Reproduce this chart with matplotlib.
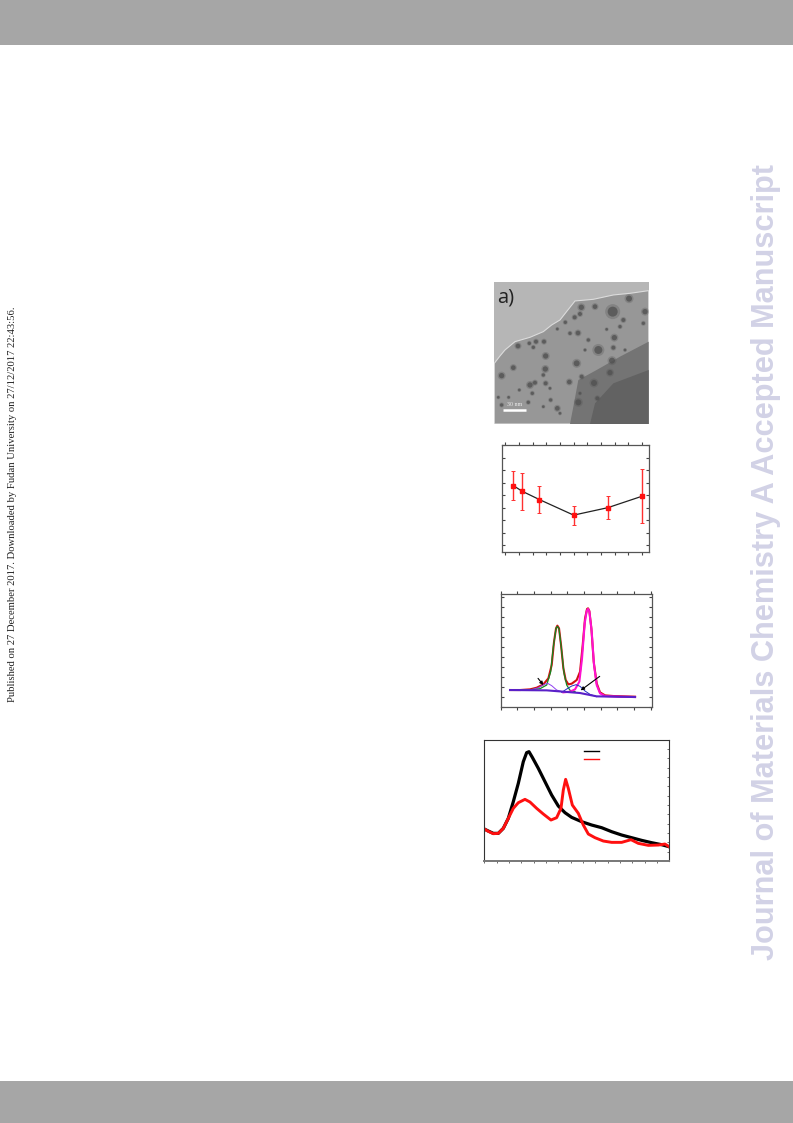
import matplotlib
matplotlib.use("Agg")
import matplotlib.pyplot as plt
from matplotlib.patches import Polygon, Circle, Rectangle

W, H = 793, 1123
fig = plt.figure(figsize=(W/100, H/100), dpi=100, facecolor="white")

def box(l, t, r, b):
    return [l/W, 1-b/H, (r-l)/W, (b-t)/H]

# ---------- panel a: micrograph regions and particles
sample_edge = [(43,280),(60,258),(75,240),(105,215),(150,202),(190,185),(215,165),(240,150),(262,122),(285,93),(340,88),(400,75),(450,70),(506,62),(506,462),(43,462)]
dark_zone = [(270,462),(282,400),(295,330),(350,300),(420,260),(506,215),(506,462)]
darker_zone = [(330,462),(345,400),(400,340),(506,300),(506,462)]
part_x = [447,398,304,345,300,284,256,294,270,232,430,420,403,400,355,325,490,495,380,192,168,148,114,160,197,100,65,196,190,150,165,197,118,157,86,55,65,145,212,190,232,240,268,305,290,396,390,342,295,352,315,435,300,210]
part_y = [86,125,112,110,132,142,157,189,190,177,150,170,203,233,240,210,160,125,178,215,215,220,228,232,258,293,317,297,315,345,338,340,360,370,382,382,405,397,390,410,415,430,336,320,280,272,308,339,397,385,240,240,370,355]
part_r = [9,15,8,7,6,6,5,7,5,4,6,5,8,6,12,5,5,8,4,6,6,5,7,5,8,7,8,8,5,8,6,6,4,5,4,4,5,5,5,4,7,4,7,6,9,9,8,9,9,6,4,4,4,4]

# ---------- panel b
time_x = [0.6, 1.24, 2.5, 5.0, 7.5, 10.0]
size_y = [4.77, 4.32, 3.65, 2.40, 3.00, 3.92]
size_low = [3.60, 2.83, 2.56, 1.57, 2.08, 1.76]
size_high = [5.97, 5.81, 4.75, 3.17, 3.92, 6.10]

# ---------- panel c
fit_x = [28,58,88,108,128,143,153,160,166,170,175,181,188,195,203,213,228,238,246,253,259,262,266,272,279,288,298,313,338,368,403]
fit_y = [50,50,52,57,67,85,125,195,235,243,235,185,115,80,67,69,80,105,185,265,293,295,287,235,135,70,43,34,32,31,30]
green_x = [28,88,118,138,150,158,166,170,175,182,190,198,208,223]
green_y = [50,51,54,65,105,180,235,241,233,175,100,65,49,45]
magenta_x = [188,208,223,236,244,252,258,262,266,273,280,288,298,313,358,403]
magenta_y = [43,45,52,75,145,250,287,293,285,225,125,65,40,32,30,29]
purple_x = [28,88,113,128,141,153,168,183]
purple_y = [50,50,57,66,70,63,50,45]
blue_x = [183,198,213,226,238,253,268,288]
blue_y = [43,53,62,66,61,47,37,30]
base_x = [28,138,188,238,288,403]
base_y = [50,49,45,41,31,29]

# ---------- panel d
black_x = [0,12,27,42,57,72,87,102,117,127,134,144,162,182,202,222,242,262,292,322,352,382,412,442,472,502,532,554]
black_y = [95,89,82,82,97,127,177,232,297,324,327,310,277,237,197,164,144,130,117,107,99,87,77,69,61,54,48,42]
red_x = [0,12,27,42,57,72,87,102,122,137,157,177,200,217,230,237,244,252,264,282,297,312,332,357,382,412,440,462,492,522,542,554]
red_y = [95,88,81,82,97,127,157,174,184,176,157,140,122,129,157,212,244,217,167,142,107,80,69,59,55,55,63,52,46,47,50,42]

watermark = "Journal of Materials Chemistry A Accepted Manuscript"
published = "Published on 27 December 2017. Downloaded by Fudan University on 27/12/2017 22:43:56."

# page furniture
for t, b in [(0, 45), (1081, 1123)]:
    fig.add_artist(Rectangle((0, 1-b/H), 1, (b-t)/H, transform=fig.transFigure, color="#a6a6a6", lw=0))
fig.text(766/W, 1-561.5/H, watermark, rotation=90, ha="center", va="center",
         family="Liberation Sans", weight="bold", fontsize=22.15, color="#d2d2e6")
fig.text(12.5/W, 1-504/H, published, rotation=90, ha="center", va="center",
         family="Liberation Serif", fontsize=7.68, color="#222222")

# panel a
ax = fig.add_axes(box(494.3, 282.3, 648.7, 424))
ax.set_xlim(43, 506); ax.set_ylim(462, 37)
ax.set_facecolor("#b6b6b6"); ax.set_xticks([]); ax.set_yticks([])
for s in ax.spines.values():
    s.set_visible(False)
ax.add_patch(Polygon(sample_edge, fc="#979797", ec="#dcdcdc", lw=0.8))
ax.add_patch(Polygon(dark_zone, fc="#747474", ec="none"))
ax.add_patch(Polygon(darker_zone, fc="#626262", ec="none"))
for px, py, pr in zip(part_x, part_y, part_r):
    ax.add_patch(Circle((px, py), pr*1.5, fc="#555555", ec="none", alpha=0.3))
    ax.add_patch(Circle((px, py), pr, fc="#505050", ec="none", alpha=0.75))
ax.text(52, 97, "a)", family="Open Sans", fontsize=14.5, color="#222222")
ax.plot([70, 138], [420, 420], color="white", lw=1.8, solid_capstyle="butt")
ax.text(104, 407, "30 nm", family="Liberation Serif", fontsize=4.2, color="#eeeeee", ha="center")

def frame(ax, lw=0.9, color="#555555"):
    for s in ax.spines.values():
        s.set_linewidth(lw); s.set_color(color)
    ax.set_xticklabels([]); ax.set_yticklabels([])

# panel b
ax = fig.add_axes(box(501.7, 445, 649, 552))
ax.set_xlim(-0.25, 10.5); ax.set_ylim(-0.56, 8.03)
ax.set_xticks(range(11)); ax.set_yticks(range(9))
ax.tick_params(top=True, right=True, direction="in", length=2, width=0.8, color="#444444")
ax.tick_params(axis="x", bottom=True, direction="out")
frame(ax)
ax.plot(time_x, size_y, color="#222222", lw=0.9)
err = [[m-l for m, l in zip(size_y, size_low)], [h-m for h, m in zip(size_high, size_y)]]
ax.errorbar(time_x, size_y, yerr=err, fmt="s", ms=3.2, color="#ff1010", ecolor="#ff3030",
            elinewidth=1.0, capsize=1.2, capthick=0.7)

# panel c
ax = fig.add_axes(box(500.7, 594.3, 651.7, 706.7))
ax.set_xlim(0, 453); ax.set_ylim(0, 337)
ax.set_xticks(range(0, 451, 50)); ax.set_yticks(range(0, 337, 30))
ax.tick_params(top=True, right=True, direction="in", length=2, width=0.8, color="#444444")
ax.tick_params(axis="x", direction="out")
frame(ax)
ax.plot(fit_x, fit_y, color="#d01010", lw=1.5)
ax.plot(green_x, green_y, color="#108a20", lw=0.9)
ax.plot(magenta_x, magenta_y, color="#ff10d0", lw=1.5)
ax.plot(purple_x, purple_y, color="#9040f0", lw=0.7)
ax.plot(blue_x, blue_y, color="#2030c0", lw=0.7)
ax.plot(base_x, base_y, color="#5a20c8", lw=1.5)
arrow = dict(arrowstyle="-|>", color="black", lw=0.8, mutation_scale=5, shrinkA=0, shrinkB=0)
ax.annotate("", xy=(128, 65), xytext=(112, 85), arrowprops=arrow)
ax.annotate("", xy=(240, 49), xytext=(297, 91), arrowprops=arrow)

# panel d
ax = fig.add_axes(box(484.3, 740, 669, 860.7))
ax.set_xlim(0, 554); ax.set_ylim(0, 362)
ax.set_xticks(range(0, 554, 37)); ax.set_yticks(range(27, 362, 28))
ax.tick_params(right=True, left=False, direction="in", length=1.5, width=0.6, color="#555555")
ax.tick_params(axis="x", direction="out")
frame(ax, lw=0.8, color="#333333")
ax.spines["bottom"].set_linewidth(1.4); ax.spines["bottom"].set_color("#777777")
ax.plot(black_x, black_y, color="black", lw=2.3)
ax.plot(red_x, red_y, color="#ff1010", lw=2.1)
ax.plot([300, 344], [328, 328], color="black", lw=1.0)
ax.plot([300, 344], [304, 304], color="#ff1010", lw=1.0)

fig.savefig("out.png", dpi=100)
